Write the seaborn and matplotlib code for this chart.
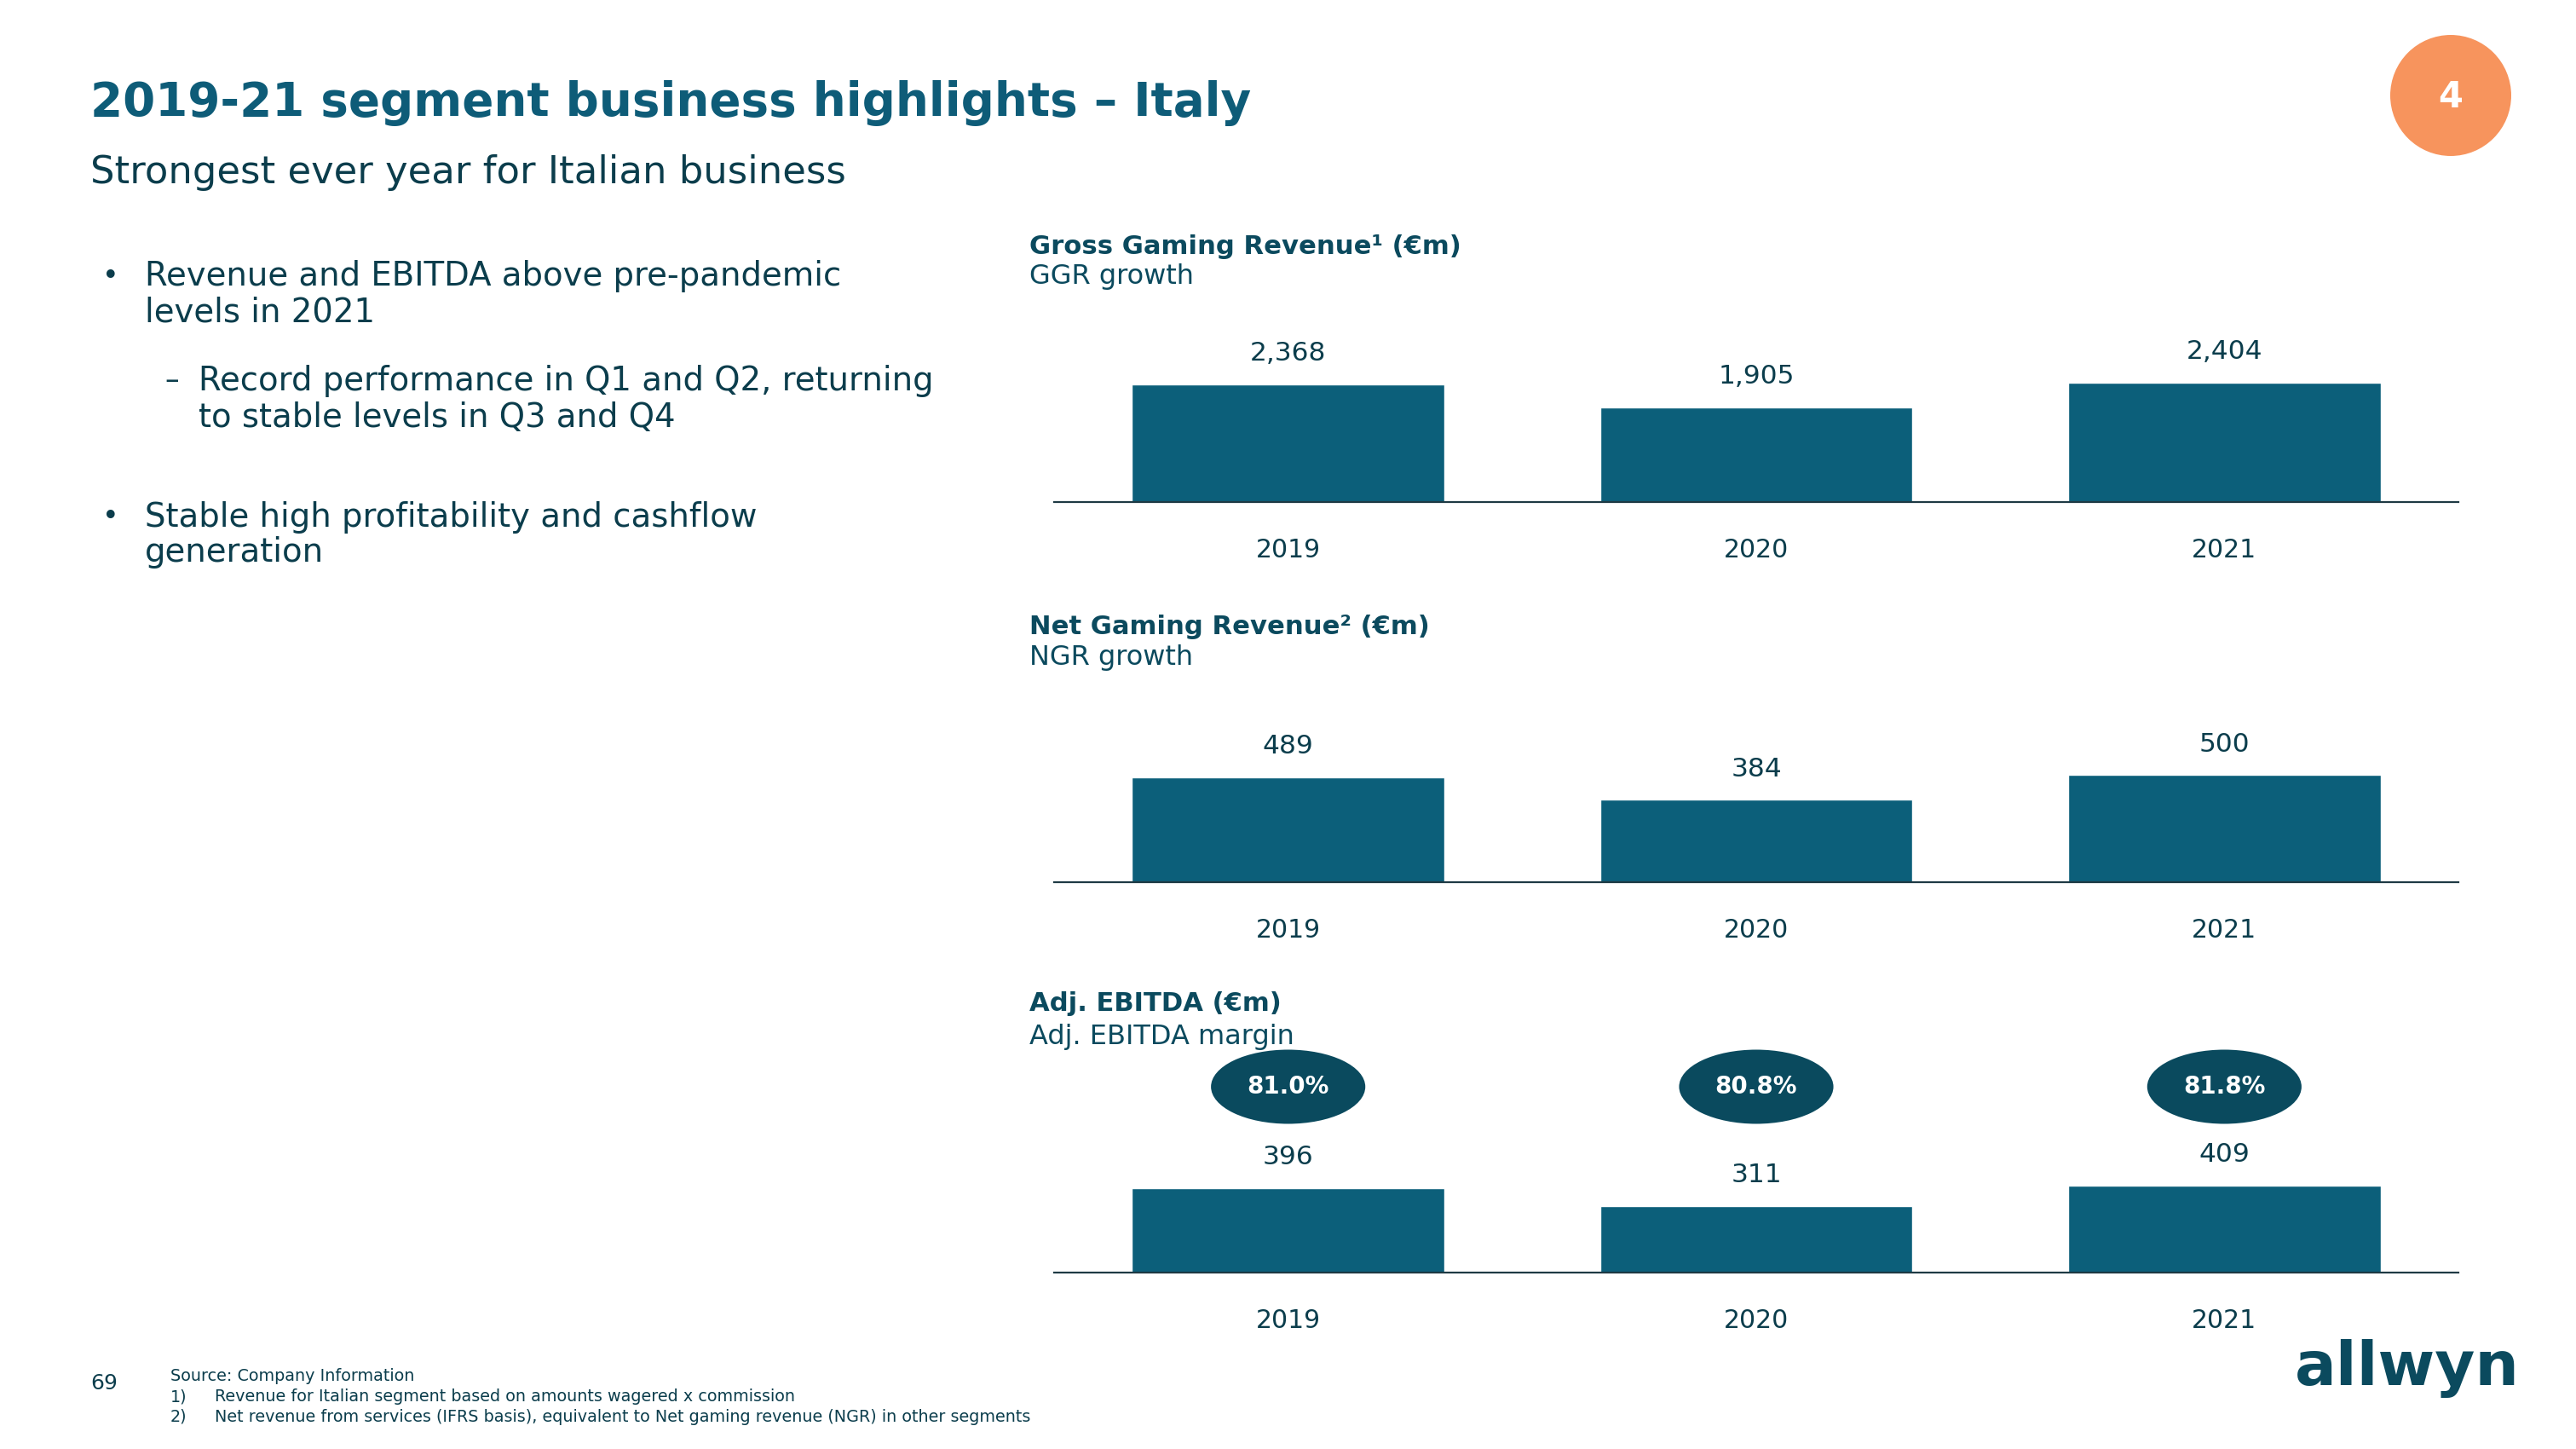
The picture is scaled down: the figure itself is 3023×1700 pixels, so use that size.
import matplotlib
matplotlib.use("Agg")
import matplotlib.pyplot as plt
import matplotlib.transforms as mtransforms
from matplotlib.patches import Ellipse
import seaborn as sns

# data
years = ["2019", "2020", "2021"]
ggr = [2368, 1905, 2404]
ngr = [489, 384, 500]
ebitda = [396, 311, 409]
margin = ["81.0%", "80.8%", "81.8%"]

W, H = 3023, 1700
BAR = "#0C5F7A"
DARK = "#0B3D4C"
HEAD = "#0B4A5E"
TITLE = "#0E5C78"
FONT = "DejaVu Sans"

sns.set_theme(style="white")
plt.rcParams["font.family"] = [FONT]

fig = plt.figure(figsize=(W / 100, H / 100), dpi=100)


def fx(x):
    return x / W


def fy(y):
    return 1 - y / H


def txt(x, y, s, size, color=DARK, weight="normal", ha="left", va="center"):
    fig.text(fx(x), fy(y), s, fontsize=size, color=color, weight=weight,
             ha=ha, va=va)


# header
txt(106, 121, "2019-21 segment business highlights – Italy", 39.4, TITLE, "bold")
txt(106, 203, "Strongest ever year for Italian business", 32.3)

# bullets
txt(120, 324, "•", 24)
txt(170, 324, "Revenue and EBITDA above pre-pandemic", 27.8)
txt(170, 366, "levels in 2021", 27.8)
txt(193, 447, "–", 24)
txt(233, 447, "Record performance in Q1 and Q2, returning", 27.8)
txt(233, 490, "to stable levels in Q3 and Q4", 27.8)
txt(120, 607, "•", 24)
txt(170, 607, "Stable high profitability and cashflow", 27.8)
txt(170, 648, "generation", 27.8)

# footnotes
txt(106, 1623, "69", 18)
txt(200, 1614, "Source: Company Information", 13.8)
txt(200, 1639, "1)", 13.8)
txt(252, 1639, "Revenue for Italian segment based on amounts wagered x commission", 13.8)
txt(200, 1662, "2)", 13.8)
txt(252, 1662, "Net revenue from services (IFRS basis), equivalent to Net gaming revenue (NGR) in other segments", 13.8)

# page badge and logo
badge = Ellipse((fx(2876), fy(112)), 142 / W, 142 / H, transform=fig.transFigure,
                facecolor="#F7945D", edgecolor="none")
fig.patches.append(badge)
txt(2876, 114, "4", 30, "white", "bold", ha="center")
txt(2825, 1606, "allwyn", 52, HEAD, "heavy", ha="center")

# chart panels: (values, baseline y px, units per px, heading, subheading, heading y)
panels = [
    (ggr, 589, 0.0583, "Gross Gaming Revenue¹ (€m)", "GGR growth", 289, 324),
    (ngr, 1035, 0.2515, "Net Gaming Revenue² (€m)", "NGR growth", 735, 771),
    (ebitda, 1493, 0.2505, "Adj. EBITDA (€m)", "Adj. EBITDA margin", 1178, 1217),
]

x0, x1 = 1237, 2885
ax_h = 160
axes = []
for vals, base, scale, head, sub, hy, sy in panels:
    ax = fig.add_axes([fx(x0), fy(base), (x1 - x0) / W, ax_h / H])
    sns.barplot(x=years, y=vals, ax=ax, color=BAR, saturation=1, width=0.667)
    ax.set_xlim(-0.5, 2.5)
    ax.set_ylim(0, ax_h / scale)
    ax.set_yticks([])
    ax.set_xlabel("")
    ax.set_ylabel("")
    for s in ["top", "left", "right"]:
        ax.spines[s].set_visible(False)
    ax.spines["bottom"].set_color("#1E3A44")
    ax.spines["bottom"].set_linewidth(1.6)
    ax.tick_params(axis="x", length=0, pad=30, labelsize=21.5, labelcolor=DARK)
    ax.set_facecolor("none")
    for i, v in enumerate(vals):
        ax.annotate(f"{v:,}", (i, v), xytext=(0, 26), textcoords="offset points",
                    ha="center", va="center", fontsize=22.5, color=DARK)
    txt(1208, hy, head, 22.1, HEAD, "bold")
    txt(1208, sy, sub, 23, HEAD)
    axes.append(ax)

# EBITDA margin bubbles
ax = axes[2]
trans = mtransforms.blended_transform_factory(ax.transData, ax.transAxes)
for i, m in enumerate(margin):
    e = Ellipse((i, (1493 - 1275) / ax_h), 181 / 549, 87 / ax_h, transform=trans,
                facecolor="#0A4A5E", edgecolor="none", clip_on=False)
    ax.add_patch(e)
    ax.text(i, (1493 - 1275) / ax_h, m, transform=trans, ha="center", va="center",
            fontsize=20, color="white", weight="bold")

fig.savefig("out.png", dpi=100, facecolor="white")
